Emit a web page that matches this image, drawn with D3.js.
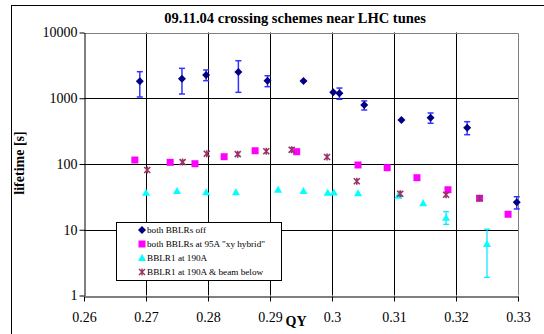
<!DOCTYPE html>
<html>
<head>
<meta charset="utf-8">
<script src="https://cdn.jsdelivr.net/npm/d3@7"></script>
<style>
  body { margin: 0; background: #fff; }
  svg { display: block; }
  svg text { font-family: "Liberation Serif", "Times New Roman", serif; }
</style>
</head>
<body>
<div id="chart"></div>
<script>
const width = 544;
const height = 334;

// both BBLRs off
const offQ    = [0.2690, 0.2758, 0.2797, 0.2849, 0.2896, 0.2954, 0.3002, 0.3012, 0.3052, 0.3112, 0.3159, 0.3218, 0.3298];
const offLife = [1810, 1980, 2260, 2500, 1850, 1830, 1230, 1190, 790, 467, 507, 356, 26.2];
const offHi   = [2535, 2850, 2690, 3720, 2200, null, null, 1430, 910, null, 597, 440, 31.8];
const offLo   = [1045, 1160, 1850, 1230, 1500, null, null, 964, 663, null, 416, 279, 20.7];

// both BBLRs at 95A "xy hybrid"
const hybQ    = [0.2682, 0.2739, 0.2779, 0.2826, 0.2876, 0.2943, 0.3042, 0.3089, 0.3137, 0.3187, 0.3238, 0.3284];
const hybLife = [115, 106, 101, 129, 159, 154, 96.6, 87.9, 61.9, 40.6, 30.1, 17.2];

// BBLR1 at 190A
const b1Q    = [0.2700, 0.2750, 0.2797, 0.2845, 0.2913, 0.2954, 0.2993, 0.3003, 0.3042, 0.3107, 0.3147, 0.3184, 0.3250];
const b1Life = [36.6, 38.8, 37.1, 37.1, 40.6, 38.8, 36.6, 37, 35.8, 33, 25.2, 15.2, 6.07];
const b1Hi   = [null, null, null, null, null, null, null, null, null, null, null, 18.8, 10.2];
const b1Lo   = [null, null, null, null, null, null, null, null, null, null, null, 12.1, 1.89];

// BBLR1 at 190A & beam below
const belQ    = [0.2702, 0.2759, 0.2798, 0.2848, 0.2894, 0.2935, 0.2992, 0.3040, 0.3110, 0.3184, 0.3238];
const belLife = [81.1, 107, 143, 141, 156, 165, 128, 54.6, 35.3, 34.1, 30.1];
const belHi   = [null, null, null, null, null, 178, null, null, 38, null, null];
const belLo   = [null, null, null, null, null, 152, null, null, 32, null, null];

const xTicks = [0.26, 0.27, 0.28, 0.29, 0.3, 0.31, 0.32, 0.33];
const yTicks = [1, 10, 100, 1000, 10000];
const legendLabels = ["both BBLRs off", "both BBLRs at 95A \"xy hybrid\"", "BBLR1 at 190A", "BBLR1 at 190A & beam below"];

const serif = "'Liberation Serif', 'Times New Roman', serif";

const x = d3.scaleLinear().domain([0.26, 0.33]).range([84, 518]);
const y = d3.scaleLog().domain([1, 10000]).range([295.5, 32.5]);

const svg = d3.select("#chart").append("svg")
    .attr("width", width)
    .attr("height", height)
    .attr("font-family", serif);

// chart area frame
svg.append("rect")
    .attr("x", 11.5).attr("y", 5.5)
    .attr("width", 600).attr("height", 400)
    .attr("fill", "none").attr("stroke", "#000");

// gridlines
svg.append("g")
  .selectAll("line")
  .data(xTicks.slice(1, -1))
  .join("line")
    .attr("x1", d => Math.round(x(d)) + 0.5).attr("x2", d => Math.round(x(d)) + 0.5)
    .attr("y1", y(10000)).attr("y2", y(1))
    .attr("stroke", "#000");

svg.append("g")
  .selectAll("line")
  .data(yTicks.slice(1, -1))
  .join("line")
    .attr("x1", x(0.26)).attr("x2", x(0.33))
    .attr("y1", d => Math.round(y(d)) + 0.5).attr("y2", d => Math.round(y(d)) + 0.5)
    .attr("stroke", "#000");

// plot border (top and right)
svg.append("path")
    .attr("d", `M${x(0.26)},${Math.round(y(10000)) + 0.5}H${Math.round(x(0.33)) + 0.5}V${y(1)}`)
    .attr("fill", "none").attr("stroke", "#808080");

// axes
const xAxis = svg.append("g")
    .attr("transform", `translate(0,${Math.round(y(1)) + 0.5})`)
    .call(d3.axisBottom(x).tickValues(xTicks).tickSize(5).tickSizeOuter(0).tickFormat(d3.format("")));

const yAxis = svg.append("g")
    .attr("transform", `translate(${Math.round(x(0.26)) + 0.5},0)`)
    .call(d3.axisLeft(y).tickValues(yTicks).tickSize(5).tickSizeOuter(0).tickFormat(d3.format("d")));

[xAxis, yAxis].forEach(a => {
  a.attr("font-family", serif).attr("font-size", 14);
  a.select(".domain").attr("stroke", "#000");
  a.selectAll(".tick line").attr("stroke", "#000");
  a.selectAll("text").attr("fill", "#000");
});
xAxis.selectAll("text").attr("y", 16);
yAxis.selectAll("text").attr("x", -7);

// titles
svg.append("text")
    .attr("x", 295).attr("y", 23)
    .attr("text-anchor", "middle")
    .attr("font-size", 14.5).attr("font-weight", "bold")
    .text("09.11.04 crossing schemes near LHC tunes");

svg.append("text")
    .attr("x", 296).attr("y", 326)
    .attr("text-anchor", "middle")
    .attr("font-size", 14).attr("font-weight", "bold")
    .text("QY");

svg.append("text")
    .attr("transform", "translate(24,163) rotate(-90)")
    .attr("text-anchor", "middle")
    .attr("font-size", 14).attr("font-weight", "bold")
    .text("lifetime [s]");

// error bars
function errorBars(qs, hi, lo, color, width) {
  const rows = qs.map((q, i) => ({q, hi: hi[i], lo: lo[i]})).filter(d => d.hi != null);
  const g = svg.append("g").attr("stroke", color).attr("stroke-width", width);
  g.selectAll(".v").data(rows).join("line")
      .attr("x1", d => x(d.q)).attr("x2", d => x(d.q))
      .attr("y1", d => y(d.hi)).attr("y2", d => y(d.lo));
  g.selectAll(".t").data(rows).join("line")
      .attr("x1", d => x(d.q) - 3).attr("x2", d => x(d.q) + 3)
      .attr("y1", d => y(d.hi)).attr("y2", d => y(d.hi));
  g.selectAll(".b").data(rows).join("line")
      .attr("x1", d => x(d.q) - 3).attr("x2", d => x(d.q) + 3)
      .attr("y1", d => y(d.lo)).attr("y2", d => y(d.lo));
}

errorBars(offQ, offHi, offLo, "#3333ff", 1.5);
errorBars(b1Q, b1Hi, b1Lo, "#00e5ff", 1.2);
errorBars(belQ, belHi, belLo, "#808080", 1);

// markers
const diamond = "M0,-4L4,0L0,4L-4,0Z";
const square = "M-3.5,-3.5H3.5V3.5H-3.5Z";
const triangle = "M0,-4L4,3L-4,3Z";
const star = "M-3,-3L3,3M3,-3L-3,3M0,-3.5V3.5";

function markers(qs, lifes, shape, fill, stroke) {
  svg.append("g")
    .selectAll("path")
    .data(qs.map((q, i) => ({q, v: lifes[i]})))
    .join("path")
      .attr("transform", d => `translate(${x(d.q)},${y(d.v)})`)
      .attr("d", shape)
      .attr("fill", fill)
      .attr("stroke", stroke)
      .attr("stroke-width", stroke === "none" ? 0 : 1.6);
}

markers(offQ, offLife, diamond, "#000080", "none");
markers(hybQ, hybLife, square, "#ff00ff", "none");
markers(b1Q, b1Life, triangle, "#00ffff", "none");
markers(belQ, belLife, star, "none", "#993366");

// legend
const legend = svg.append("g");
legend.append("rect")
    .attr("x", 116.5).attr("y", 222.5)
    .attr("width", 165).attr("height", 58)
    .attr("fill", "#fff").attr("stroke", "#000");

const legendShapes = [
  {d: diamond, fill: "#000080", stroke: "none"},
  {d: square, fill: "#ff00ff", stroke: "none"},
  {d: triangle, fill: "#00ffff", stroke: "none"},
  {d: star, fill: "none", stroke: "#993366"}
];

const item = legend.selectAll(".item")
  .data(legendLabels)
  .join("g")
    .attr("transform", (d, i) => `translate(142,${230 + i * 14})`);

item.append("path")
    .attr("d", (d, i) => legendShapes[i].d)
    .attr("fill", (d, i) => legendShapes[i].fill)
    .attr("stroke", (d, i) => legendShapes[i].stroke)
    .attr("stroke-width", (d, i) => legendShapes[i].stroke === "none" ? 0 : 1.4);

item.append("text")
    .attr("x", 5)
    .attr("dy", "0.35em")
    .attr("font-size", 9.2)
    .text(d => d);
</script>
</body>
</html>
